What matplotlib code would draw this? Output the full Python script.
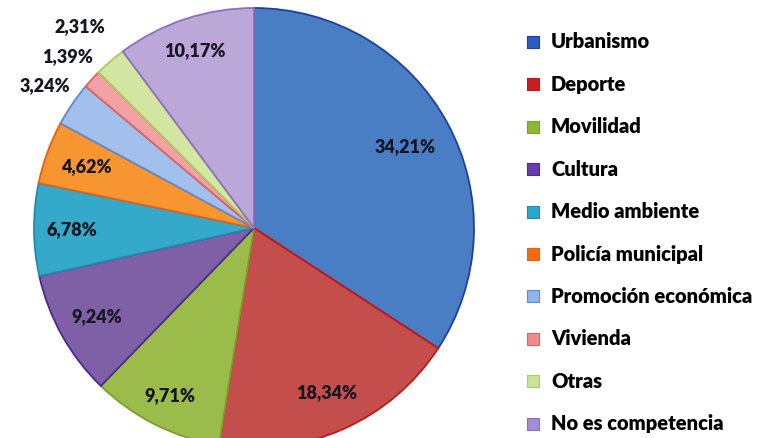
import matplotlib.pyplot as plt
import numpy as np

categories = ["Urbanismo", "Deporte", "Movilidad", "Cultura", "Medio ambiente",
              "Policía municipal", "Promoción económica", "Vivienda", "Otras",
              "No es competencia"]
values = [34.21, 18.34, 9.71, 9.24, 6.78, 4.62, 3.24, 1.39, 2.31, 10.17]
pct_labels = ["34,21%", "18,34%", "9,71%", "9,24%", "6,78%", "4,62%",
              "3,24%", "1,39%", "2,31%", "10,17%"]

colors = ["#4A7EC4", "#C44E4B", "#9BBB4A", "#7F5FA6", "#35A9C9", "#F79530",
          "#A3BFEB", "#F2A2A2", "#D3E6A2", "#BBA8D8"]
edge_colors = ["#1F3FA0", "#C01818", "#7AA02A", "#4A2A90", "#1E8CB0", "#E86010",
               "#5A8AD8", "#E06060", "#A8CC60", "#8A70C0"]
legend_colors = ["#2A5CC8", "#C81E1E", "#8CB832", "#6A3CA8", "#2AA8CC", "#F46A10",
                 "#8FB4EE", "#EC8C8C", "#C8E39A", "#A68CD4"]
# label radius as fraction of pie radius (outside for the small slices)
label_r = [0.78, 0.82, 0.85, 0.82, 0.83, 0.81, 1.15, 1.15, 1.21, 0.85]

W, H = 774, 438
fig = plt.figure(figsize=(W / 100, H / 100), dpi=100)
ax = fig.add_axes([0, 0, 1, 1])

cx, cy, R = 254, H - 228, 220
wedges, _ = ax.pie(values, colors=colors, startangle=90, counterclock=False,
                   center=(cx, cy), radius=R,
                   wedgeprops=dict(linewidth=1.3))
for w, ec in zip(wedges, edge_colors):
    w.set_edgecolor(ec)

font = ["Lato", "DejaVu Sans"]
for w, lab, r in zip(wedges, pct_labels, label_r):
    ang = np.deg2rad((w.theta1 + w.theta2) / 2)
    ax.text(cx + r * R * np.cos(ang), cy + r * R * np.sin(ang), lab,
            ha="center", va="center", fontsize=13, fontweight="heavy",
            color="#161622", family=font)

# legend
y0, dy = H - 42, 42.4
for i, (cat, c) in enumerate(zip(categories, legend_colors)):
    y = y0 - i * dy
    ax.scatter([533], [y], marker="s", s=85, color=c,
               edgecolor=edge_colors[i], linewidth=0.8)
    ax.text(551, y, cat, ha="left", va="center", fontsize=14.5,
            fontweight="heavy", color="#000000", family=font)

ax.set_xlim(0, W)
ax.set_ylim(0, H)
ax.set_aspect("auto")
ax.axis("off")

fig.savefig("out.png", dpi=100)
